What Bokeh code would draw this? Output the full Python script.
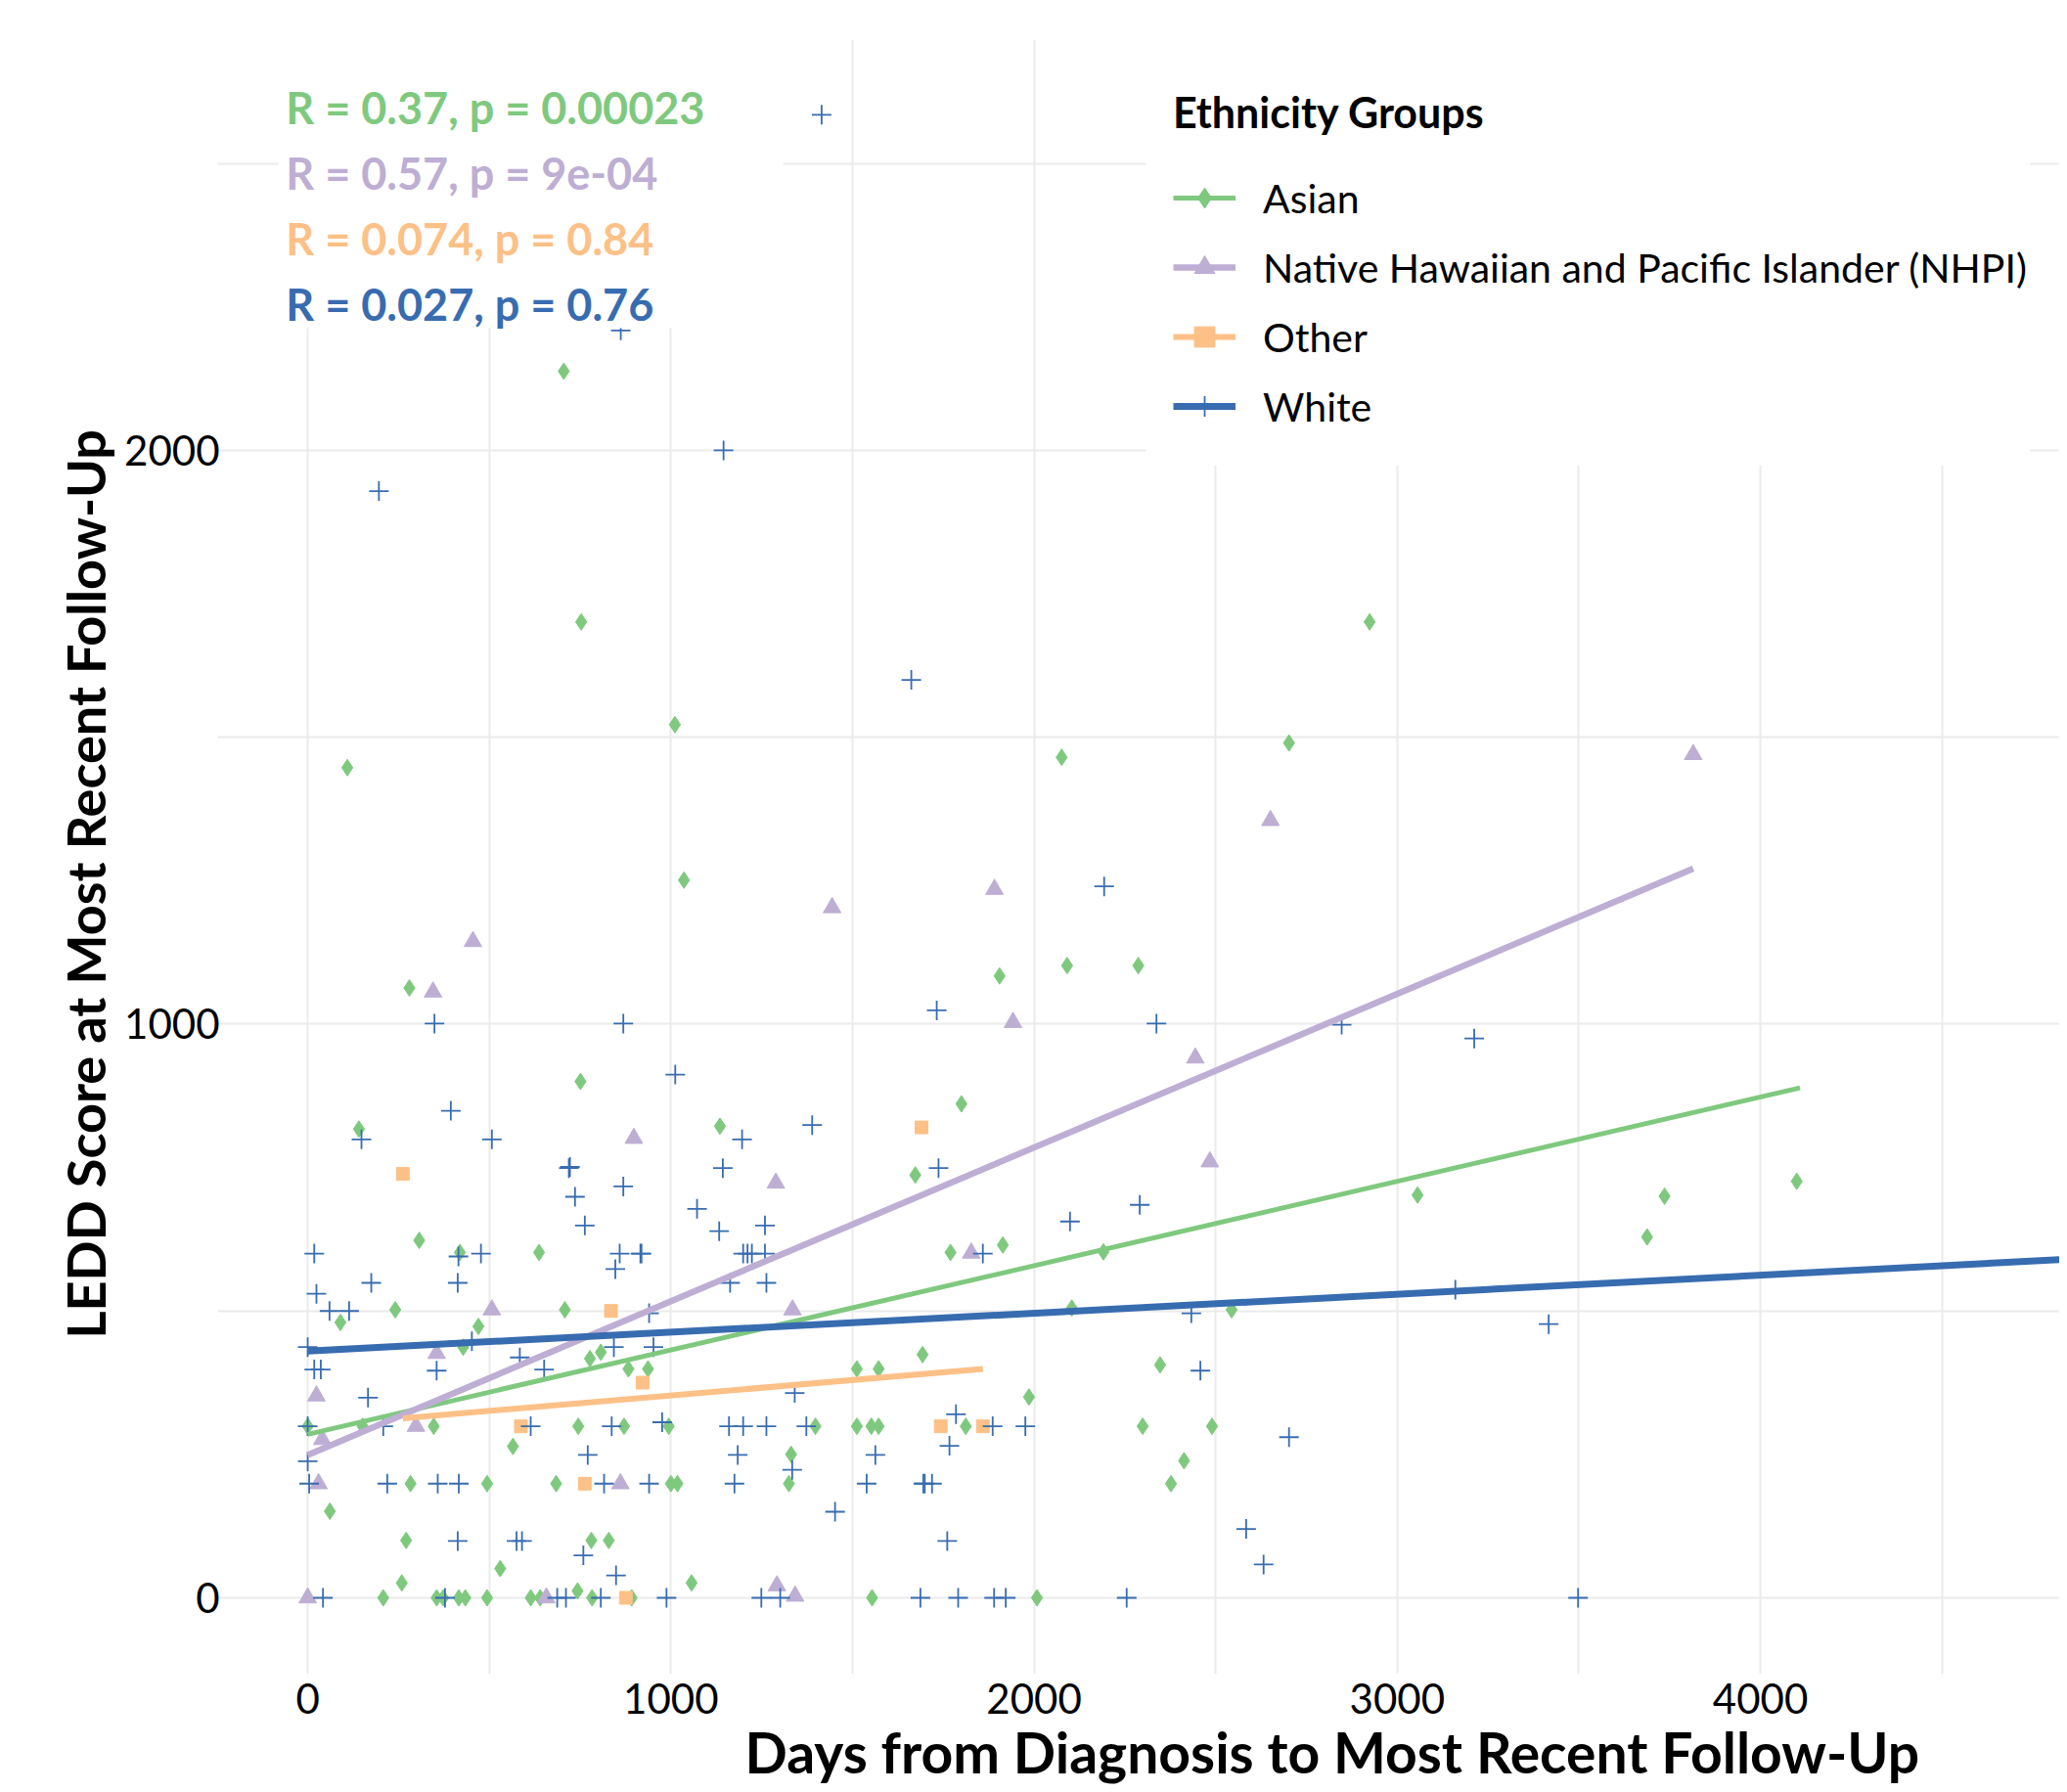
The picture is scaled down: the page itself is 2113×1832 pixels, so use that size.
from bokeh.plotting import figure
from bokeh.models import Range1d, FixedTicker, Label, BoxAnnotation, Legend, LegendItem, Title
from bokeh.embed import file_html
from bokeh.resources import INLINE

FONT = "Lato"

groups = ["Asian", "Native Hawaiian and Pacific Islander (NHPI)", "Other", "White"]
colors = ["#7fc97f", "#beaed4", "#fdc086", "#386cb0"]
markers = ["diamond", "triangle", "square", "cross"]

asian_days = [705, 753, 2924, 1011, 109, 2076, 2702, 1036, 1905, 2091, 2287, 280, 1800, 751, 141,
              1135, 1673, 307, 419, 637, 241, 708, 90, 470, 428, 777, 807, 883, 937, 1512, 1572,
              1693, 0, 151, 347, 745, 871, 994, 1398, 1512, 1552, 1572, 565, 1331, 283, 494, 684,
              1000, 1018, 1325, 61, 271, 781, 829, 530, 259, 1057, 743, 208, 355, 373, 416, 434,
              494, 614, 640, 783, 892, 1554, 2008, 1770, 1914, 2191, 3056, 2104, 2544, 2347, 1986,
              1812, 2299, 2490, 2413, 2377, 3736, 3688, 4100]
asian_ledd = [2138, 1701, 1701, 1522, 1447, 1465, 1490, 1251, 1084, 1102, 1102, 1063, 861, 900, 817,
              822, 737, 623, 602, 602, 502, 502, 480, 473, 437, 417, 428, 399, 399, 399, 399,
              424, 299, 299, 299, 299, 299, 299, 299, 299, 299, 299, 264, 250, 199, 199, 199,
              199, 199, 199, 151, 100, 100, 100, 51, 26, 26, 12, 0, 0, 0, 0, 0,
              0, 0, 0, 0, 0, 0, 0, 602, 615, 603, 702, 505, 502, 406, 350,
              299, 299, 299, 239, 199, 700, 629, 726]

nhpi_days = [3815, 2651, 1891, 1444, 455, 345, 1942, 2444, 898, 2484, 1289, 507, 1335, 355, 24, 298,
             40, 30, 861, 1827, 1292, 1342, 0, 657]
nhpi_ledd = [1470, 1355, 1235, 1203, 1144, 1056, 1003, 941, 801, 760, 723, 502, 502, 426, 352, 299,
             276, 199, 199, 601, 21, 3, 0, 0]

other_days = [1690, 262, 835, 922, 587, 1743, 1859, 763, 876]
other_ledd = [820, 739, 500, 375, 299, 299, 299, 199, 0]

white_days = [1415, 862, 1145, 196, 1662, 2193, 1732, 349, 869, 2337, 2847, 3212,
              1012, 394, 148, 507, 1196, 1389, 719, 722, 869, 736, 1143, 1072, 763, 1133, 1259,
              415, 477, 859, 916, 919, 847, 1199, 1211, 1223, 1259, 1163, 1263, 18, 24, 175, 413,
              60, 114, 940, 0, 452, 584, 843, 952, 18, 36, 355, 651, 166, 1341,
              0, 208, 614, 837, 976, 1160, 1199, 1263, 1373,
              0, 771, 1184, 1334, 1563,
              4, 219, 358, 416, 816, 940, 1175, 1539, 1695, 1699,
              1452, 413, 575, 590, 759, 849,
              42, 378, 687, 711, 807, 988, 1249, 1301, 1687,
              1737, 2291, 2099, 1859, 2433, 3417, 3160, 2458, 1785, 1886, 1976, 1767, 2702, 1719,
              1761, 2584, 2632, 1791, 1890, 1922, 2255, 3498]
white_ledd = [2585, 2209, 2000, 1929, 1600, 1240, 1024, 1001, 1001, 1001, 999, 975,
              912, 849, 799, 799, 799, 824, 749, 751, 717, 699, 749, 678, 649, 639, 649,
              595, 600, 600, 600, 600, 573, 600, 600, 600, 600, 549, 549, 600, 530, 549, 549,
              500, 500, 496, 437, 447, 419, 437, 437, 398, 398, 396, 398, 349, 357,
              299, 299, 299, 299, 306, 299, 299, 299, 299,
              238, 249, 249, 223, 249,
              199, 199, 199, 199, 199, 199, 199, 199, 199, 199,
              150, 99, 99, 99, 74, 39,
              0, 0, 0, 0, 0, 0, 0, 0, 0,
              749, 685, 656, 600, 496, 477, 537, 396, 320, 299, 299, 265, 280, 199,
              99, 120, 58, 0, 0, 0, 0, 0]

# fitted regression lines, in group order
fit_day_start = [0, 0, 262, 0]
fit_day_end = [4109, 3815, 1859, 4900]
fit_ledd_start = [285, 249, 313, 430]
fit_ledd_end = [889, 1271, 399, 592]

stat_labels = ["R = 0.37, p = 0.00023", "R = 0.57, p = 9e-04",
               "R = 0.074, p = 0.84", "R = 0.027, p = 0.76"]

x_ticks = [0, 1000, 2000, 3000, 4000]
x_minor = [500, 1500, 2500, 3500, 4500]
y_ticks = [0, 1000, 2000]
y_minor = [500, 1500, 2500]

x_title = "Days from Diagnosis to Most Recent Follow-Up"
y_title = "LEDD Score at Most Recent Follow-Up"
legend_title = "Ethnicity Groups"

series = [(asian_days, asian_ledd), (nhpi_days, nhpi_ledd), (other_days, other_ledd), (white_days, white_ledd)]

p = figure(width=2105, height=1831, x_range=Range1d(-248, 4824), y_range=Range1d(-133, 2716),
           output_backend="svg", toolbar_location=None,
           min_border_left=222, min_border_right=0, min_border_top=40, min_border_bottom=120)
p.outline_line_color = None
p.background_fill_color = "white"
p.border_fill_color = "white"

xt = FixedTicker(ticks=x_ticks, minor_ticks=x_minor)
yt = FixedTicker(ticks=y_ticks, minor_ticks=y_minor)
p.xaxis.ticker = xt
p.yaxis.ticker = yt
p.xgrid.ticker = xt
p.ygrid.ticker = yt
for g in (p.xgrid, p.ygrid):
    g.grid_line_color = "#ebebeb"
    g.grid_line_width = 2
    g.minor_grid_line_color = "#ebebeb"
    g.minor_grid_line_width = 2

for ax in (p.xaxis, p.yaxis):
    ax.axis_line_color = None
    ax.major_tick_line_color = None
    ax.minor_tick_line_color = None
    ax.major_label_text_font = FONT
    ax.major_label_text_font_size = "42px"
    ax.major_label_text_color = "black"
p.xaxis.major_label_standoff = 3
p.yaxis.major_label_standoff = -8

scat = []
sizes = [17, 18, 13, 20]
for (xs, ys), c, m, s in zip(series, colors, markers, sizes):
    r = p.scatter(xs, ys, marker=m, size=s, fill_color=c, line_color=c,
                  line_width=1.8 if m == "cross" else 1)
    scat.append(r)

lines = []
lws = [5, 6.5, 6, 7]
for i in range(4):
    r = p.line([fit_day_start[i], fit_day_end[i]], [fit_ledd_start[i], fit_ledd_end[i]],
               line_color=colors[i], line_width=lws[i])
    lines.append(r)

# white pasted panels behind the annotation and the legend
p.add_layout(BoxAnnotation(left=-81, right=1309, bottom=2213, fill_color="white", fill_alpha=1,
                           line_alpha=0))
p.add_layout(BoxAnnotation(left=2308, right=4743, bottom=1974, fill_color="white", fill_alpha=1,
                           line_alpha=0))

stat_y = [2597, 2483, 2369, 2254]
for txt, c, yy in zip(stat_labels, colors, stat_y):
    p.add_layout(Label(x=-60, y=yy, text=txt, text_color=c, text_font=FONT,
                       text_font_size="45px", text_font_style="bold", text_baseline="middle"))

items = [LegendItem(label=groups[i], renderers=[lines[i], scat[i]]) for i in range(4)]
leg = Legend(items=items, location=(957, 1250), title=legend_title,
             title_text_font=FONT, title_text_font_size="43px", title_text_font_style="bold",
             title_text_color="black", title_standoff=36,
             label_text_font=FONT, label_text_font_size="41px", label_text_color="black",
             glyph_width=64, glyph_height=52, label_height=52, label_standoff=28, spacing=19,
             padding=20, margin=0, background_fill_alpha=0, border_line_alpha=0)
p.add_layout(leg)

p.add_layout(Title(text=x_title, align="left", offset=539, standoff=0, text_font=FONT,
                   text_font_size="57px", text_font_style="bold", text_color="black"), "below")
p.add_layout(Title(text=y_title, align="left", offset=343, standoff=10, text_font=FONT,
                   text_font_size="54px", text_font_style="bold", text_color="black"), "left")

open("out.html", "w").write(file_html(p, INLINE))
